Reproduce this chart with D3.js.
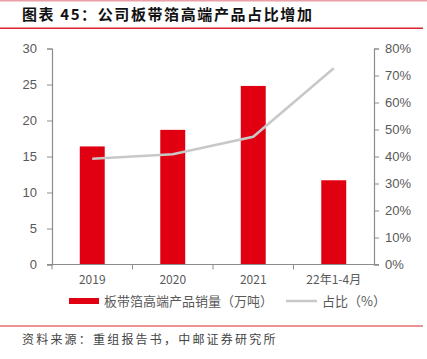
<!DOCTYPE html>
<html>
<head>
<meta charset="utf-8">
<script src="https://cdn.jsdelivr.net/npm/d3@7"></script>
<style>
  body { margin: 0; background: #fff; }
  svg { display: block; font-family: "Noto Sans CJK SC", "Noto Sans", sans-serif; }
</style>
</head>
<body>
<script>

var categories = ["2019", "2020", "2021", "22年1-4月"];
var sales = [16.4, 18.7, 24.8, 11.7];      // 板带箔高端产品销量（万吨）
var share = [39.2, 40.8, 47.3, 72.7];      // 占比（%）
var leftTicks = [0, 5, 10, 15, 20, 25, 30];
var rightTicks = [0, 10, 20, 30, 40, 50, 60, 70, 80];

var W = 427, H = 359;
var margin = {top: 48.5, left: 52, right: 53, bottom: 94.5};
var width = W - margin.left - margin.right;
var height = H - margin.top - margin.bottom;

var svg = d3.select("body").append("svg")
    .attr("width", W)
    .attr("height", H);

// header / footer rules
svg.append("rect").attr("x", 0).attr("y", 0).attr("width", W).attr("height", 1.5).attr("fill", "#e9a0a6");
svg.append("rect").attr("x", 0).attr("y", 27.5).attr("width", 423).attr("height", 1.5).attr("fill", "#d9262c");
svg.append("rect").attr("x", 0).attr("y", 325.5).attr("width", 423).attr("height", 1).attr("fill", "#d9262c");

svg.append("text")
    .attr("x", 22).attr("y", 20)
    .attr("font-size", 15).attr("font-weight", "bold")
    .attr("letter-spacing", 1.6)
    .attr("fill", "#111")
    .text("图表 45：公司板带箔高端产品占比增加");

svg.append("text")
    .attr("x", 22).attr("y", 344)
    .attr("font-size", 12)
    .attr("letter-spacing", 2.2)
    .attr("fill", "#444")
    .text("资料来源：重组报告书，中邮证券研究所");

var g = svg.append("g")
    .attr("transform", "translate(" + margin.left + "," + margin.top + ")");

var xScale = d3.scaleBand().domain(categories).range([0, width]).paddingInner(0.69).paddingOuter(0.345);
var yScale = d3.scaleLinear().domain([0, 30]).range([height, 0]);
var y2Scale = d3.scaleLinear().domain([0, 80]).range([height, 0]);

// bars
g.selectAll(".bar").data(sales).enter()
    .append("rect")
    .attr("class", "bar")
    .attr("x", function(d, i) { return xScale(categories[i]); })
    .attr("width", xScale.bandwidth())
    .attr("y", function(d) { return yScale(d); })
    .attr("height", function(d) { return height - yScale(d); })
    .attr("fill", "#e00012");

// share line
var line = d3.line()
    .x(function(d, i) { return xScale(categories[i]) + xScale.bandwidth() / 2; })
    .y(function(d) { return y2Scale(d); });

g.append("path")
    .datum(share)
    .attr("d", line)
    .attr("fill", "none")
    .attr("stroke", "#c8c8c8")
    .attr("stroke-width", 2.5);

// axes
var axisColor = "#8c8c8c";
var textColor = "#595959";

var yAxis = d3.axisLeft(yScale).tickValues(leftTicks).tickSize(5).tickPadding(10);
var y2Axis = d3.axisRight(y2Scale).tickValues(rightTicks).tickSize(5).tickPadding(6)
    .tickFormat(function(d) { return d + "%"; });

var yg = g.append("g").call(yAxis);
var y2g = g.append("g").attr("transform", "translate(" + width + ",0)").call(y2Axis);

// x axis line with ticks at band boundaries
var xg = g.append("g").attr("transform", "translate(0," + height + ")");
xg.append("line").attr("x1", -5).attr("x2", width + 5).attr("stroke", axisColor).attr("stroke-width", 1.2);
var step = xScale.step();
d3.range(categories.length).forEach(function(i) {
    var x = xScale(categories[i]) - xScale.step() * xScale.paddingInner() / 2;
    xg.append("line").attr("x1", x).attr("x2", x).attr("y1", 0).attr("y2", 5).attr("stroke", axisColor);
});
xg.selectAll(".xl").data(categories).enter()
    .append("text")
    .attr("class", "xl")
    .attr("x", function(d) { return xScale(d) + xScale.bandwidth() / 2; })
    .attr("y", 19)
    .attr("text-anchor", "middle")
    .attr("font-size", 12)
    .attr("fill", textColor)
    .text(function(d) { return d; });

[yg, y2g].forEach(function(a) {
    a.select(".domain").attr("stroke", axisColor).attr("stroke-width", 1.2);
    a.selectAll(".tick line").attr("stroke", axisColor);
    a.selectAll(".tick text").attr("font-size", 13).attr("fill", textColor)
        .attr("font-family", "Liberation Sans, Arial, sans-serif");
});

// legend
var lg = svg.append("g").attr("transform", "translate(0,301)");
lg.append("rect").attr("x", 69).attr("y", -3).attr("width", 30).attr("height", 6).attr("fill", "#e00012");
lg.append("text").attr("x", 104).attr("y", 5).attr("font-size", 13).attr("fill", textColor)
    .text("板带箔高端产品销量（万吨）");
lg.append("line").attr("x1", 286).attr("x2", 317).attr("y1", 0).attr("y2", 0)
    .attr("stroke", "#c8c8c8").attr("stroke-width", 2.5);
lg.append("text").attr("x", 322).attr("y", 5).attr("font-size", 13).attr("fill", textColor)
    .text("占比（%）");

</script>
</body>
</html>
